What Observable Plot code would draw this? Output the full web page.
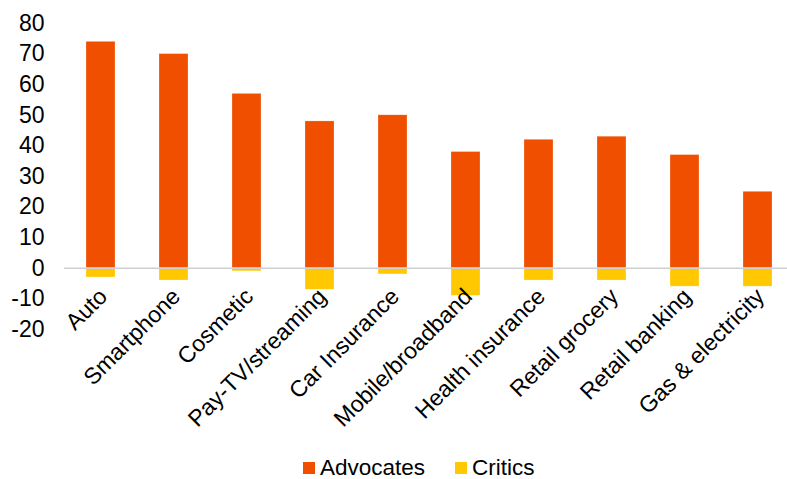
<!DOCTYPE html>
<html>
<head>
<meta charset="utf-8">
<script src="https://cdn.jsdelivr.net/npm/d3@7"></script>
<script src="https://cdn.jsdelivr.net/npm/@observablehq/plot@0.6"></script>
<style>
  html, body { margin: 0; padding: 0; background: #fff; }
  body { width: 787px; height: 479px; overflow: hidden; font-family: "Liberation Sans", Arial, sans-serif; }
  #legend { position: relative; height: 29px; font-size: 22.5px; color: #000; }
  .item { position: absolute; top: 7px; display: flex; align-items: center; line-height: 22px; height: 22px; }
  .sw { width: 12px; height: 12px; margin-right: 5px; }
</style>
</head>
<body>
<div id="chart"></div>
<div id="legend"></div>
<script>
const categories = ["Auto", "Smartphone", "Cosmetic", "Pay-TV/streaming", "Car Insurance", "Mobile/broadband", "Health insurance", "Retail grocery", "Retail banking", "Gas & electricity"];
const advocates = [74, 70, 57, 48, 50, 38, 42, 43, 37, 25];
const critics = [-3, -4, -1, -7, -2, -9, -4, -4, -6, -6];
const seriesNames = ["Advocates", "Critics"];
const seriesColors = ["#f04f00", "#ffc800"];
const yTicks = [80, 70, 60, 50, 40, 30, 20, 10, 0, -10, -20];

const data = [];
categories.forEach((c, i) => {
  data.push({cat: c, series: "Advocates", value: advocates[i]});
  data.push({cat: c, series: "Critics", value: critics[i]});
});

const chart = Plot.plot({
  width: 787,
  height: 450,
  marginLeft: 64,
  marginRight: 0,
  marginTop: 20,
  marginBottom: 120,
  style: {fontFamily: "'Liberation Sans', Arial, sans-serif", fontSize: "23px", color: "#000", background: "#fff", overflow: "visible"},
  x: {domain: categories, range: [64, 795], paddingInner: 0.6, paddingOuter: 0.3, label: null, axis: null},
  y: {domain: [-20, 80], range: [329, 23], label: null},
  color: {domain: seriesNames, range: seriesColors},
  marks: [
    Plot.barY(data, {x: "cat", y: "value", fill: "series", stroke: "white", strokeOpacity: 0.4, strokeWidth: 0.6}),
    Plot.ruleY([0], {stroke: "#d0d0d0", strokeWidth: 1.5}),
    Plot.axisY({ticks: yTicks, tickSize: 0, tickPadding: 20, tickFormat: d => String(d), label: null, fontSize: 23}),
    Plot.text(categories, {x: d => d, y: () => 0, text: d => d, rotate: -45, textAnchor: "end", lineAnchor: "top", dx: -4, dy: 18, fontSize: 23, fill: "#000"})
  ]
});
document.getElementById("chart").appendChild(chart);

const legend = document.getElementById("legend");
const lx = [303, 455];
seriesNames.forEach((s, i) => {
  const it = document.createElement("div");
  it.className = "item";
  it.style.left = lx[i] + "px";
  const sw = document.createElement("span");
  sw.className = "sw";
  sw.style.background = seriesColors[i];
  const t = document.createElement("span");
  t.textContent = s;
  it.appendChild(sw);
  it.appendChild(t);
  legend.appendChild(it);
});
</script>
</body>
</html>
